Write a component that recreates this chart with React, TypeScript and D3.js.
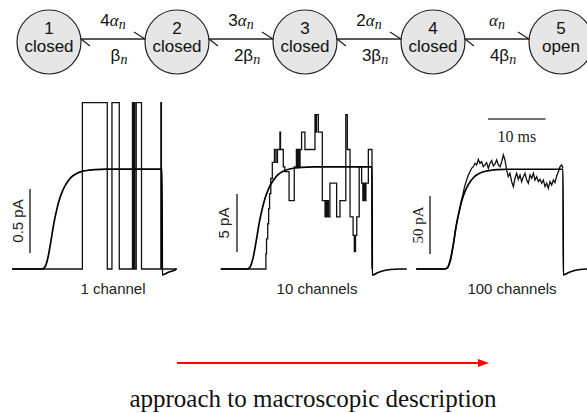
import React from 'react';
import * as d3 from 'd3';

const SANS = '"Liberation Sans", Arial, Helvetica, sans-serif';
const SERIF = '"Liberation Serif", "Times New Roman", serif';

// kinetic scheme
const stateNumbers = ['1', '2', '3', '4', '5'];
const stateNames = ['closed', 'closed', 'closed', 'closed', 'open'];
const forwardCoef = ['4', '3', '2', ''];
const backwardCoef = ['', '2', '3', '4'];

// ensemble mean (fraction of steady state), ms after the step
const meanT = [0, 0.5, 1, 1.5, 2, 2.5, 3, 3.5, 4, 5, 6, 7, 8, 9, 11, 20.5, 20.55, 21, 21.5, 22.5, 23.5, 25];
const meanF = [0, 0.02, 0.11, 0.27, 0.45, 0.59, 0.7, 0.78, 0.84, 0.92, 0.96, 0.98, 0.99, 0.996, 1, 1, -0.06, -0.05, -0.035, -0.015, -0.005, 0];

// 1 channel (pA)
const oneT = [-5.1, 6.9, 11.15, 11.95, 13.2, 15.45, 15.6, 15.7, 15.85, 16.1, 17.0, 20.3, 20.4, 23.0];
const oneI = [0, 1.3, 0, 1.3, 0, 1.3, 0, 1.3, 0, 1.3, 0, 1.3, 0, 0];

// 10 channels (pA)
const tenT = [-4.3, 3.1, 3.2, 3.4, 3.55, 3.7, 3.9, 4.15, 4.5, 4.75, 5.0, 5.4, 5.5, 5.95, 6.2, 6.9, 7.75, 8.1, 8.3, 8.4, 8.55, 8.7, 8.95, 9.5, 11.15, 11.3, 11.4, 11.7, 12.35, 12.8, 12.9, 13.0, 13.2, 13.35, 13.6, 14.7, 15.25, 16.2, 16.45, 16.9, 17.4, 17.6, 17.8, 18.0, 18.4, 18.8, 19.0, 19.2, 19.35, 19.5, 19.9, 20.5];
const tenI = [0, 1.3, 2.6, 3.9, 5.2, 6.5, 7.8, 9.2, 10.3, 9.2, 10.3, 11.8, 10.3, 8.8, 8.4, 5.9, 8.8, 10.3, 8.8, 10.3, 8.8, 10.3, 11.8, 10.3, 13.3, 11.8, 13.3, 11.8, 5.9, 4.5, 5.9, 4.5, 5.9, 4.5, 7.4, 4.5, 5.9, 13.3, 10.3, 4.5, 2.9, 1.5, 2.9, 4.5, 8.8, 7.4, 5.9, 7.4, 5.9, 7.4, 10.3, 0];

// 100 channels (pA)
const hundredT = [-5.0, 0, 0.5, 1, 1.5, 1.8, 2.1, 2.5, 2.8, 3.1, 3.4, 3.76, 4.05, 4.34, 4.63, 4.92, 5.21, 5.5, 5.79, 6.08, 6.37, 6.66, 6.95, 7.24, 7.53, 7.82, 8.11, 8.4, 8.69, 8.98, 9.27, 9.56, 9.85, 10.14, 10.42, 10.71, 11.0, 11.29, 11.58, 11.87, 12.16, 12.45, 12.74, 13.03, 13.32, 13.61, 13.9, 14.19, 14.48, 14.77, 15.06, 15.35, 15.64, 15.93, 16.22, 16.51, 16.8, 17.09, 17.38, 17.66, 17.95, 18.24, 18.53, 18.82, 19.11, 19.4, 19.69, 19.98, 20.27, 20.5];
const hundredI = [0, 0, 1, 8, 22, 33, 41, 50, 58, 64, 71, 76.7, 81, 83.9, 86.8, 88.2, 91.1, 89.7, 94.5, 91.1, 92.5, 88.2, 89.7, 91.7, 86.8, 91.1, 93.4, 88.8, 90.5, 94, 89.7, 88.2, 92.5, 98.3, 94, 85.3, 79.6, 82.5, 75.3, 71, 78.2, 82.5, 77.3, 81, 75.3, 79.6, 82.5, 76.7, 73.9, 81, 78.2, 82.5, 76.7, 79.6, 75.3, 77.3, 73.9, 76.7, 71, 73.9, 69.5, 75.3, 72.4, 76.7, 74.4, 80.2, 83.9, 88.2, 89.7, 86.8];

const panelNames = ['1 channel', '10 channels', '100 channels'];
const meanAmp = [0.78, 8.8, 86];
const barValues = [0.5, 5, 50];
const barLabels = ['0.5 pA', '5 pA', '50 pA'];
const timeBarMs = 10;
const timeBarLabel = '10 ms';
const caption = 'approach to macroscopic description';

const baseY = 269;
const panels = [
  { t: oneT, i: oneI, step: true, x0: 42, x1: 162, barLen: 64, barX: 30, barBottom: 253, labelX: 23, labelFont: SANS, nameX: 113, tFrom: -5.1, tTo: 23 },
  { t: tenT, i: tenI, step: true, x0: 247, x1: 372, barLen: 58, barX: 237, barBottom: 252, labelX: 229, labelFont: SANS, nameX: 317, tFrom: -4.3, tTo: 26.2 },
  { t: hundredT, i: hundredI, step: false, x0: 445, x1: 563, barLen: 58, barX: 430, barBottom: 254, labelX: 423, labelFont: SERIF, nameX: 512, tFrom: -5.0, tTo: 24.7 },
];

function Panel({ p, k }: { p: any; k: number }) {
  const x = d3.scaleLinear().domain([0, 20.5]).range([p.x0, p.x1]);
  const y = d3.scaleLinear().domain([0, barValues[k]]).range([baseY, baseY - p.barLen]);
  const line = d3.line<[number, number]>().x(d => x(d[0])).y(d => y(d[1]));

  const tracePts: [number, number][] = p.t.map((t: number, j: number) => [t, p.i[j]]);
  const meanPts: [number, number][] = [[p.tFrom, 0]];
  meanT.forEach((t, j) => { if (t <= p.tTo) meanPts.push([t, meanF[j] * meanAmp[k]]); });
  meanPts.push([p.tTo, 0]);

  const traceD = line.curve(p.step ? d3.curveStepAfter : d3.curveLinear)(tracePts) || '';
  const meanD = line.curve(d3.curveMonotoneX)(meanPts) || '';

  return (
    <g>
      <path d={traceD} fill="none" stroke="#111" strokeWidth={1.3} strokeLinejoin="miter" />
      <path d={meanD} fill="none" stroke="#000" strokeWidth={1.7} />
      <line x1={p.barX} x2={p.barX} y1={p.barBottom} y2={p.barBottom - p.barLen} stroke="#333" strokeWidth={1.5} />
      <text transform={`translate(${p.labelX},${p.barBottom - p.barLen / 2}) rotate(-90)`} textAnchor="middle"
        fontFamily={p.labelFont} fontSize={15} fill="#222">{barLabels[k]}</text>
      <text x={p.nameX} y={294} textAnchor="middle" fontFamily={SANS} fontSize={15} fill="#222">{panelNames[k]}</text>
      {k === 2 && (
        <g>
          <line x1={488} x2={488 + x(timeBarMs) - x(0)} y1={119} y2={119} stroke="#444" strokeWidth={1.5} />
          <text x={488 + (x(timeBarMs) - x(0)) / 2} y={142} textAnchor="middle" fontFamily={SERIF} fontSize={16} fill="#222">{timeBarLabel}</text>
        </g>
      )}
    </g>
  );
}

export default function App() {
  const cx = d3.scaleLinear().domain([0, 4]).range([49, 561]);
  const cy = 42, r = 32, lineY = 39;
  return (
    <svg width={587} height={413} style={{ position: 'absolute', left: 0, top: 0, background: '#fff' }}>
      {stateNumbers.map((s, j) => (
        <g key={s}>
          <circle cx={cx(j)} cy={cy} r={r} fill="#e6e6e6" stroke="#222" strokeWidth={1.2} />
          <text x={cx(j)} y={34} textAnchor="middle" fontFamily={SANS} fontSize={17} fill="#111">{s}</text>
          <text x={cx(j)} y={52} textAnchor="middle" fontFamily={SANS} fontSize={17} fill="#111">{stateNames[j]}</text>
        </g>
      ))}
      {forwardCoef.map((c, j) => {
        const xs = cx(j) + r, xe = cx(j + 1) - r, mid = (xs + xe) / 2;
        return (
          <g key={j}>
            <line x1={xs} x2={xe} y1={lineY} y2={lineY} stroke="#222" strokeWidth={1.3} />
            <line x1={xe - 11} y1={lineY - 7} x2={xe} y2={lineY} stroke="#222" strokeWidth={1.3} />
            <line x1={xs} y1={lineY} x2={xs + 9} y2={lineY + 7} stroke="#222" strokeWidth={1.3} />
            <text x={mid} y={26} textAnchor="middle" fontSize={17} fill="#111">
              <tspan fontFamily={SANS}>{c}</tspan>
              <tspan fontFamily={SERIF} fontStyle="italic">α</tspan>
              <tspan fontFamily={SERIF} fontStyle="italic" fontSize={14} dy={3}>n</tspan>
            </text>
            <text x={mid + 6} y={61} textAnchor="middle" fontSize={17} fill="#111">
              <tspan fontFamily={SANS}>{backwardCoef[j]}</tspan>
              <tspan fontFamily={SANS}>β</tspan>
              <tspan fontFamily={SERIF} fontStyle="italic" fontSize={14} dy={3}>n</tspan>
            </text>
          </g>
        );
      })}
      {panels.map((p, k) => <Panel key={k} p={p} k={k} />)}
      <line x1={177} x2={480} y1={363} y2={363} stroke="#ff0000" strokeWidth={2} />
      <path d="M478,359 L489,363 L478,367 Z" fill="#ff0000" />
      <text x={313} y={407} textAnchor="middle" fontFamily={SERIF} fontSize={25} fill="#111">{caption}</text>
    </svg>
  );
}
